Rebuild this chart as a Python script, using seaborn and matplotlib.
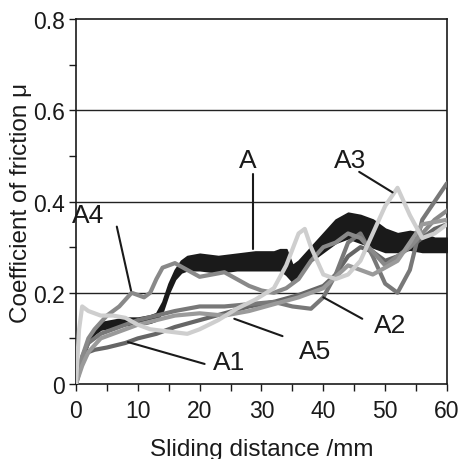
import matplotlib
matplotlib.use("Agg")
import matplotlib.pyplot as plt
import seaborn as sns
import pandas as pd
import numpy as np

# ---- data ----
a_x  = [0, 1, 2, 3, 4, 6, 8, 10, 12, 13, 14, 15, 16, 17, 18, 20, 23, 26, 29, 32, 33, 34, 35, 36, 38, 40, 42, 44, 46, 48, 50, 52, 54, 56, 58, 60]
a_lo = [0, .05, .09, .11, .12, .125, .13, .13, .135, .14, .16, .20, .23, .245, .25, .25, .245, .25, .25, .25, .25, .24, .225, .24, .27, .29, .31, .32, .31, .30, .29, .29, .295, .29, .29, .29]
a_hi = [0, .06, .10, .12, .135, .14, .145, .145, .15, .155, .18, .22, .25, .27, .28, .285, .28, .285, .29, .29, .295, .295, .26, .27, .30, .33, .36, .375, .37, .36, .34, .33, .335, .33, .32, .32]

a1_x = [0, 1, 2, 3, 5, 8, 10, 13, 16, 20, 24, 28, 32, 36, 40, 42, 44, 46, 48, 50, 52, 54, 56, 58, 60]
a1_y = [0, .05, .07, .075, .08, .09, .10, .11, .125, .14, .155, .17, .18, .195, .215, .24, .28, .30, .29, .27, .28, .30, .32, .34, .35]

a2_x = [0, 1, 2, 4, 6, 8, 10, 13, 16, 20, 24, 28, 32, 35, 38, 40, 42, 44, 46, 48, 50, 52, 54, 56, 58, 60]
a2_y = [0, .06, .09, .11, .12, .13, .14, .15, .16, .17, .17, .175, .18, .17, .165, .19, .24, .31, .33, .28, .22, .20, .25, .36, .40, .44]

a3_x = [0, 0.5, 1, 2, 4, 6, 8, 10, 12, 15, 18, 20, 23, 26, 29, 32, 34, 36, 37, 38, 40, 42, 44, 46, 48, 50, 52, 54, 56, 58, 60]
a3_y = [0, .12, .17, .16, .15, .15, .145, .13, .12, .115, .11, .12, .14, .165, .185, .21, .26, .33, .34, .30, .24, .23, .24, .27, .33, .39, .43, .37, .32, .33, .35]

a4_x = [0, 1, 2, 3, 5, 7, 9, 11, 12, 13, 14, 15, 16, 18, 20, 22, 24, 26, 28, 30, 32, 34, 36, 38, 40, 42, 44, 46, 48, 50, 52, 54, 56, 58, 60]
a4_y = [0, .06, .10, .12, .15, .17, .20, .19, .20, .23, .255, .26, .265, .25, .235, .24, .245, .23, .215, .205, .20, .21, .23, .27, .30, .31, .33, .32, .29, .26, .28, .30, .33, .36, .38]

a5_x = [0, 1, 2, 4, 6, 8, 10, 13, 16, 20, 24, 28, 32, 36, 40, 44, 48, 52, 56, 60]
a5_y = [0, .04, .07, .10, .11, .12, .13, .14, .15, .155, .15, .16, .175, .19, .21, .26, .24, .27, .35, .36]

series_names = ["A1", "A2", "A4", "A5", "A3"]
series_x = [a1_x, a2_x, a4_x, a5_x, a3_x]
series_y = [a1_y, a2_y, a4_y, a5_y, a3_y]
colors = {"A1": "#666666", "A2": "#787878", "A4": "#898989", "A5": "#9a9a9a", "A3": "#cecece"}

x_ticks = [0, 10, 20, 30, 40, 50, 60]
y_ticks = [0, 0.2, 0.4, 0.6, 0.8]
y_tick_labels = ["0", "0.2", "0.4", "0.6", "0.8"]

# label text, text position, leader start, leader end
labels = [
    ("A",  (27.8, 0.49), (28.6, 0.46), (28.6, 0.295)),
    ("A3", (44.3, 0.49), (45.8, 0.465), (51.2, 0.42)),
    ("A4", (2.0, 0.37),  (6.6, 0.345), (8.9, 0.205)),
    ("A2", (50.8, 0.13), (46.3, 0.143), (40.0, 0.19)),
    ("A5", (38.6, 0.072), (33.4, 0.105), (25.6, 0.143)),
    ("A1", (24.7, 0.048), (20.8, 0.044), (8.4, 0.092)),
]

# ---- plotting ----
sns.set_theme(style="ticks")
plt.rcParams["font.family"] = ["Liberation Sans", "DejaVu Sans"]

fig = plt.figure(figsize=(4.62, 4.60), dpi=100)
ax = fig.add_axes([0.1645, 0.163, 0.803, 0.7935])

for g in [0.2, 0.4, 0.6]:
    ax.axhline(g, color="#222222", lw=1.0, zorder=1)

ax.fill_between(a_x, a_lo, a_hi, color="#1a1a1a", lw=1.5, edgecolor="#1a1a1a", zorder=2)

rows = []
for n, xs, ys in zip(series_names, series_x, series_y):
    for xv, yv in zip(xs, ys):
        rows.append({"x": xv, "y": yv, "s": n})
df = pd.DataFrame(rows)
sns.lineplot(data=df, x="x", y="y", hue="s", hue_order=series_names, palette=colors,
             estimator=None, sort=False, lw=3.0, legend=False, ax=ax, zorder=3)

for txt, tpos, l0, l1 in labels:
    ax.text(tpos[0], tpos[1], txt, fontsize=19, ha="center", va="center", color="#1a1a1a", zorder=5)
    ax.plot([l0[0], l1[0]], [l0[1], l1[1]], color="#1a1a1a", lw=1.5, zorder=5)

ax.set_xlim(0, 60)
ax.set_ylim(0, 0.8)
ax.set_xticks(x_ticks)
ax.set_xticks([5, 15, 25, 35, 45, 55], minor=True)
ax.set_yticks(y_ticks)
ax.set_yticklabels(y_tick_labels)
ax.set_yticks([0.1, 0.3, 0.5, 0.7], minor=True)
ax.tick_params(which="both", direction="out", length=5, width=1.0, color="#1a1a1a",
               labelsize=16.5, labelcolor="#1a1a1a")
ax.tick_params(axis="x", pad=6)
ax.tick_params(axis="y", pad=3)
for s in ax.spines.values():
    s.set_color("#1a1a1a")
    s.set_linewidth(1.2)
ax.set_xlabel("Sliding distance /mm", fontsize=17.5, color="#1a1a1a", labelpad=11)
ax.set_ylabel("Coefficient of friction μ", fontsize=17.5, color="#1a1a1a", labelpad=1)

fig.savefig("out.png", dpi=100)
